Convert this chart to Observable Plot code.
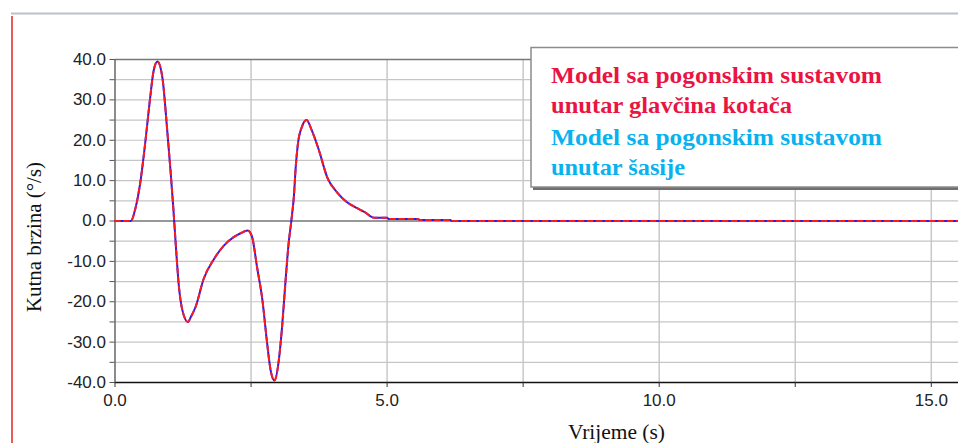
<!DOCTYPE html>
<html><head><meta charset="utf-8">
<script src="https://cdn.jsdelivr.net/npm/d3@7"></script>
<script src="https://cdn.jsdelivr.net/npm/@observablehq/plot@0.6"></script>
<style>
body{margin:0;background:#fff}
#chart{position:relative;width:958px;height:443px;overflow:hidden}
</style>
</head><body><div id="chart"></div>
<script>
// Time (s)
const time = [0, 0.29, 0.38, 0.47, 0.56, 0.64, 0.71, 0.78, 0.87, 0.96, 1.02, 1.07, 1.13, 1.17, 1.24, 1.34, 1.40, 1.48, 1.63, 1.82, 2.00, 2.18, 2.30, 2.44, 2.52, 2.61, 2.71, 2.79, 2.86, 2.93, 3.01, 3.07, 3.13, 3.19, 3.24, 3.29, 3.32, 3.36, 3.44, 3.52, 3.62, 3.75, 3.90, 4.08, 4.27, 4.45, 4.60, 4.73, 4.78, 5.00, 5.03, 5.57, 5.60, 6.16, 6.19, 15.5];
// Kutna brzina (°/s) – model with drive in wheel hubs
const hubModel = [0, 0, 3.4, 10, 19.9, 29.8, 37.2, 39.5, 35.6, 22.4, 12.5, 3.5, -8.5, -15.6, -22.2, -25.0, -23.6, -21.3, -14.3, -9.4, -6.1, -4.0, -3.1, -2.35, -4.0, -11.4, -19.7, -29.6, -37.0, -39.5, -34.5, -26.3, -15.5, -5.6, 0, 6.6, 13.2, 19.0, 23.5, 25.0, 22.3, 17.4, 10.8, 7.1, 4.6, 3.2, 2.1, 0.9, 0.8, 0.8, 0.5, 0.5, 0.25, 0.25, 0, 0];
// Kutna brzina (°/s) – model with drive in chassis
const chassisModel = [0, 0, 3.4, 10, 19.9, 29.8, 37.2, 39.5, 35.6, 22.4, 12.5, 3.5, -8.5, -15.6, -22.2, -25.0, -23.6, -21.3, -14.3, -9.4, -6.1, -4.0, -3.1, -2.35, -4.0, -11.4, -19.7, -29.6, -37.0, -39.5, -34.5, -26.3, -15.5, -5.6, 0, 6.6, 13.2, 19.0, 23.5, 25.0, 22.3, 17.4, 10.8, 7.1, 4.6, 3.2, 2.1, 0.9, 0.8, 0.8, 0.5, 0.5, 0.25, 0.25, 0, 0];

const xTicks = [0, 5, 10, 15];
const xMinorTicks = [2.5, 7.5, 12.5];
const xGridLines = [2.5, 5, 7.5, 10, 12.5, 15];
const yTicks = [-40, -30, -20, -10, 0, 10, 20, 30, 40];
const yMinorTicks = [-35, -25, -15, -5, 5, 15, 25, 35];
const yGridLines = [-35, -30, -25, -20, -15, -10, -5, 5, 10, 15, 20, 25, 30, 35];
const xLabel = "Vrijeme (s)";
const yLabel = "Kutna brzina (°/s)";
const legendLines = [
  {text: "Model sa pogonskim sustavom", series: "hub"},
  {text: "unutar glavčina kotača", series: "hub"},
  {text: "Model sa pogonskim sustavom", series: "chassis"},
  {text: "unutar šasije", series: "chassis"}
];

const hubData = time.map((t, i) => ({t, v: hubModel[i]}));
const chassisData = time.map((t, i) => ({t, v: chassisModel[i]}));
const fmt = d => d.toFixed(1);

const W = 958, H = 443;
const chart = Plot.plot({
  width: W, height: H,
  marginTop: 59, marginBottom: 61, marginLeft: 114.5, marginRight: 0,
  x: {domain: [0, 15.5], label: null},
  y: {domain: [-40, 40], label: null},
  style: {fontFamily: "'Liberation Sans', Arial, sans-serif", fontSize: "17px", color: "#222", background: "white"},
  marks: [
    Plot.gridX(xGridLines, {stroke: "#c8c8c8", strokeOpacity: 1, strokeWidth: 1.5}),
    Plot.gridY(yGridLines, {stroke: "#c6c6c6", strokeOpacity: 1, strokeWidth: 1.2}),
    Plot.ruleY([40], {stroke: "#777", strokeWidth: 1.5}),
    Plot.ruleY([0], {stroke: "#333", strokeWidth: 1.2}),
    Plot.ruleY([-40], {stroke: "#111", strokeWidth: 1.5}),
    Plot.ruleX([0], {stroke: "#666", strokeWidth: 1.5}),
    Plot.line(chassisData, {x: "t", y: "v", stroke: "#1a1aff", strokeWidth: 2, curve: "monotone-x"}),
    Plot.line(hubData, {x: "t", y: "v", stroke: "#ff1a1a", strokeWidth: 2, strokeDasharray: "5,4", curve: "monotone-x"}),
    Plot.axisY({ticks: yTicks, tickFormat: fmt, tickSize: 5, tickPadding: 4, label: null, stroke: "#555"}),
    Plot.axisY({ticks: yMinorTicks, tickFormat: () => "", tickSize: 5, label: null, stroke: "#555"}),
    Plot.axisX({ticks: xTicks, tickFormat: fmt, tickSize: 5, tickPadding: 6, label: null, stroke: "#333"}),
    Plot.axisX({ticks: xMinorTicks, tickFormat: () => "", tickSize: 5, label: null, stroke: "#333"})
  ]
});
document.getElementById("chart").appendChild(chart);

const svg = d3.select(chart);
const serif = "'Liberation Serif', 'Times New Roman', Times, serif";
// outer frame lines
svg.append("line").attr("x1", 11).attr("x2", W).attr("y1", 13.5).attr("y2", 13.5)
  .attr("stroke", "#b9c1c9").attr("stroke-width", 2);
svg.append("line").attr("x1", 12).attr("x2", 12).attr("y1", 16).attr("y2", H)
  .attr("stroke", "#e02424").attr("stroke-width", 1.5);

// axis labels
svg.append("text").attr("x", 568).attr("y", 439).attr("text-anchor", "start")
  .style("font-family", serif).style("font-size", "21px")
  .attr("textLength", 97).attr("lengthAdjust", "spacingAndGlyphs")
  .attr("fill", "#111").text(xLabel);
svg.append("text").attr("transform", "translate(41,312) rotate(-90)").attr("text-anchor", "start")
  .style("font-family", serif).style("font-size", "21px")
  .attr("textLength", 150).attr("lengthAdjust", "spacingAndGlyphs")
  .attr("fill", "#111").text(yLabel);

// legend box
const lg = svg.append("g");
lg.append("rect").attr("x", 533).attr("y", 50).attr("width", 440).attr("height", 140).attr("fill", "#6f6f6f");
lg.append("rect").attr("x", 531).attr("y", 47.5).attr("width", 440).attr("height", 139.5)
  .attr("fill", "white").attr("stroke", "#8c8c8c").attr("stroke-width", 1.5);
const colors = {hub: "#ea1443", chassis: "#08b2ee"};
const baselines = [83, 113, 145, 175];
const widths = [331, 241, 331, 134];
legendLines.forEach((l, i) => {
  lg.append("text").attr("x", 551).attr("y", baselines[i]).attr("text-anchor", "start")
    .style("font-family", serif).style("font-weight", "bold").style("font-size", "24px")
    .attr("textLength", widths[i]).attr("lengthAdjust", "spacingAndGlyphs")
    .attr("fill", colors[l.series]).text(l.text);
});
</script>
</body></html>
